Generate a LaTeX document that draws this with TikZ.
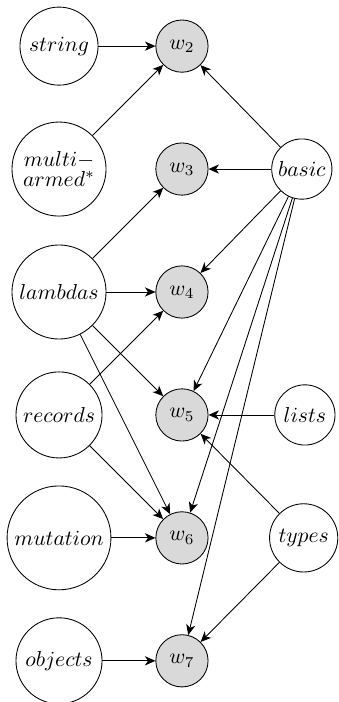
\documentclass[tikz,border=0pt]{standalone}
\usetikzlibrary{arrows.meta}
\begin{document}
\begin{tikzpicture}[>={Stealth[length=1.7mm,width=1.5mm,inset=0.5mm]},
    topic/.style={draw,circle,inner sep=1.5pt},
    week/.style={draw,circle,fill=gray!30,minimum size=0.85cm}]
        \useasboundingbox (-0.96,0.75) rectangle (4.55,-10.67);
        \node[topic,minimum size=1.27cm] (str) at (0,0) {$string$};
        \node[topic,minimum size=1.53cm,align=center] (multi) at (0,-2) {$multi-$\\[-2.5pt]$armed^*$};
        \node[topic,minimum size=1.53cm] (lam) at (0,-4) {$lambdas$};
        \node[topic,minimum size=1.4cm] (rec) at (0,-6) {$records$};
        \node[topic,minimum size=1.69cm] (mut) at (0,-8) {$mutation$};
        \node[topic,minimum size=1.4cm] (obj) at (0,-10) {$objects$};
        \node[week] (w2) at (2,0) {$w_2$};
        \node[week] (w3) at (2,-2) {$w_3$};
        \node[week] (w4) at (2,-4) {$w_4$};
        \node[week] (w5) at (2,-6) {$w_5$};
        \node[week] (w6) at (2,-8) {$w_6$};
        \node[week] (w7) at (2,-10) {$w_7$};
        \node[topic,minimum size=0.98cm] (basic) at (3.95,-2) {$basic$};
        \node[topic,minimum size=0.98cm] (lists) at (4,-6) {$lists$};
        \node[topic,minimum size=1.11cm] (types) at (3.98,-8) {$types$};
        \draw[->] (str)--(w2);
        \draw[->] (multi)--(w2);
        \draw[->] (basic)--(w2);
        \draw[->] (basic)--(w3);
        \draw[->] (lam)--(w3);
        \draw[->] (lam)--(w4);
        \draw[->] (basic)--(w4);
        \draw[->] (rec)--(w4);
        \draw[->] (lam)--(w5);
        \draw[->] (basic)--(w5);
        \draw[->] (lists)--(w5);
        \draw[->] (types)--(w5);
        \draw[->] (lam)--(w6);
        \draw[->] (rec)--(w6);
        \draw[->] (mut)--(w6);
        \draw[->] (basic)--(w6);
        \draw[->] (basic)--(w7);
        \draw[->] (types)--(w7);
        \draw[->] (obj)--(w7);
\end{tikzpicture}
\end{document}
